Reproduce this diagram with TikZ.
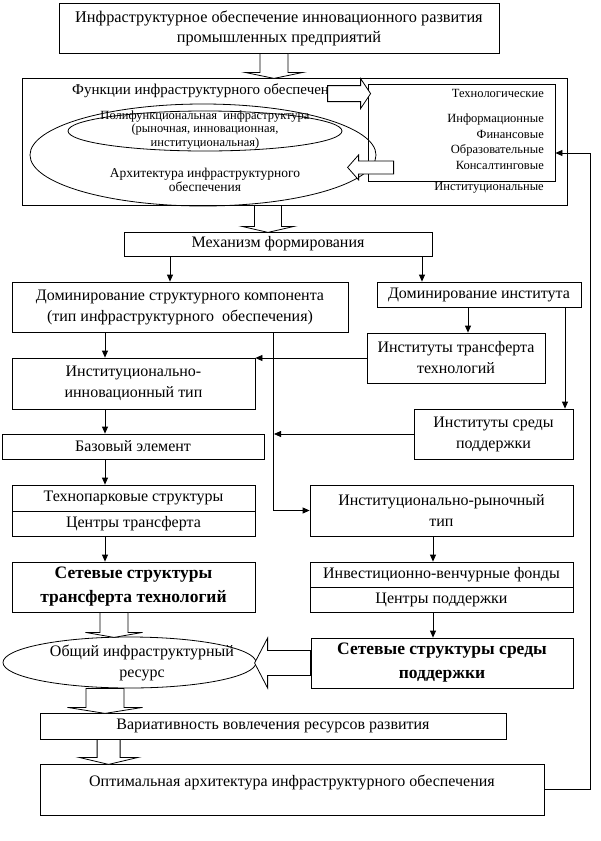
\documentclass[tikz,border=0pt]{standalone}
\usepackage{fontspec}
\setmainfont{Liberation Serif}
\usetikzlibrary{positioning, arrows.meta, shapes.geometric, calc}

\tikzset{
  box/.style={draw, line width=0.8pt, inner sep=0pt, align=center},
  oval/.style={draw, ellipse, line width=0.8pt, inner sep=0pt},
  arr/.style={line width=0.8pt, -{Triangle[length=7pt,width=6pt]}},
  txt/.style={font=\fontsize{16}{21}\selectfont, align=center, inner sep=0pt},
  smalltxt/.style={font=\fontsize{12.5}{13.5}\selectfont, align=center, inner sep=0pt},
  boldtxt/.style={font=\fontsize{17.5}{24}\selectfont\bfseries, align=center},
  fatline/.style={draw, fill=white, line width=0.8pt},
  pics/fat/.style n args={4}{code={
    \path[fatline] (0,-#1/2) -- (#3-#4,-#1/2) -- (#3-#4,-#2/2) -- (#3,0)
      -- (#3-#4,#2/2) -- (#3-#4,#1/2) -- (0,#1/2) -- cycle;
  }},
}

\begin{document}
\begin{tikzpicture}[x=1pt, y=-1pt]
\useasboundingbox (0,0) rectangle (600,841);

% upper part: functions of infrastructure support
\node[box, txt, font=\fontsize{16.3}{20}\selectfont, minimum width=440pt, minimum height=50pt] (goal) at (279,28)
  {Инфраструктурное обеспечение инновационного развития\\промышленных предприятий};
\node[box, minimum width=545pt, minimum height=127pt] (funcs) at (294.5,141.5) {};
\node[txt, font=\fontsize{15}{21}\selectfont, anchor=west] (functxt) at (72,91) {Функции инфраструктурного обеспечени};
\node[box, minimum width=187pt, minimum height=97pt] (kinds) at (461.5,132.5) {};
\node[smalltxt, anchor=east] (tech) at (544,93) {Технологические};
\node[smalltxt, anchor=east, align=right, font=\fontsize{12.5}{15.5}\selectfont] (kindlist) at (544,141.5)
  {Информационные\\Финансовые\\Образовательные\\Консалтинговые};
\node[smalltxt, anchor=east] (instkind) at (544,188) {Институциональные};

\node[oval, minimum width=346pt, minimum height=102pt] (arch) at (203,155) {};
\node[oval, minimum width=274pt, minimum height=40pt] (poly) at (205,131) {};
\node[smalltxt] (polytxt) at (205,130)
  {Полифункциональная\ \ инфраструктура\\(рыночная, инновационная,\\институциональная)};
\node[smalltxt, font=\fontsize{13.5}{14.5}\selectfont] (archtxt) at (205,180) {Архитектура инфраструктурного\\обеспечения};

\pic at ($(kinds.north west)+(-40,10)$) {fat={16}{30}{43}{10}};
\pic[rotate=180] at ($(kinds.south west)+(26,-14)$) {fat={13}{25}{46}{11}};
\pic[rotate=-90] at ($(goal.south)+(-5,0)$) {fat={28}{58}{25}{6}};
\pic[rotate=-90] at ($(funcs.south)+(-26.5,0)$) {fat={27}{52}{27}{6}};

% mechanism
\node[box, txt, minimum width=308pt, minimum height=24pt] (mech) at (278,244) {Механизм формирования};
\node[box, txt, minimum width=336pt, minimum height=50pt] (domstr) at (180,307)
  {Доминирование структурного компонента\\(тип инфраструктурного\ \ обеспечения)};
\node[box, txt, minimum width=204pt, minimum height=25pt] (dominst) at (479,294.5) {Доминирование института};
\node[box, txt, minimum width=178pt, minimum height=50pt] (insttr) at (456,358)
  {Институты трансферта\\технологий};
\node[box, txt, minimum width=243pt, minimum height=51pt] (instinnov) at (133.5,383.5)
  {Институционально-\\инновационный тип};
\node[box, txt, minimum width=159pt, minimum height=50pt] (instsr) at (493.5,434)
  {Институты среды\\поддержки};
\node[box, txt, minimum width=262pt, minimum height=25pt] (base) at (133,446.5) {Базовый элемент};
\node[box, txt, minimum width=243pt, minimum height=26pt] (techA) at (133.5,498) {Технопарковые структуры};
\node[box, txt, minimum width=243pt, minimum height=25pt] (techB) at (133.5,523.5) {Центры трансферта};
\node[box, txt, minimum width=263pt, minimum height=51pt] (instmark) at (441.5,510.5)
  {Институционально-рыночный\\тип};
\node[box, boldtxt, minimum width=243pt, minimum height=50pt] (nettr) at (133.5,587)
  {Сетевые структуры\\трансферта технологий};
\node[box, txt, minimum width=263pt, minimum height=25pt] (invA) at (441.5,574.5) {Инвестиционно-венчурные фонды};
\node[box, txt, minimum width=263pt, minimum height=25pt] (invB) at (441.5,599.5) {Центры поддержки};
\node[box, boldtxt, minimum width=262pt, minimum height=50pt] (netsup) at (442,663)
  {Сетевые структуры среды\\поддержки};

% resource and result
\node[oval, minimum width=253pt, minimum height=51pt] (res) at (129.5,662.5) {};
\node[txt] (restxt) at (142,663) {Общий инфраструктурный\\ресурс};
\node[box, txt, minimum width=466pt, minimum height=26pt] (var) at (273,726)
  {Вариативность вовлечения ресурсов развития};
\node[box, minimum width=504pt, minimum height=51pt] (opt) at (292,789.5) {};
\node[txt] (opttxt) at (292,782) {Оптимальная архитектура инфраструктурного обеспечения};

\pic[rotate=-90] at ($(nettr.south)+(-19.5,0)$) {fat={28}{57}{25}{5}};
\pic[rotate=-90] at ($(res.south)+(-24.5,0)$) {fat={38}{75}{25}{6}};
\pic[rotate=-90] at ($(var.south west)+(69,0)$) {fat={23}{59}{25}{7}};
\pic[rotate=180] at (netsup.west) {fat={25}{50}{56}{13}};

% connectors
\draw[arr] (170,0 |- mech.south) -- (170,0 |- domstr.north);
\draw[arr] (422,0 |- mech.south) -- (422,0 |- dominst.north);
\draw[arr] (468,0 |- dominst.south) -- (468,0 |- insttr.north);
\draw[arr] (565,0 |- dominst.south) -- (565,0 |- instsr.north);
\draw[arr] (105,0 |- domstr.south) -- (105,0 |- instinnov.north);
\draw[arr] (insttr.west) -- (insttr.west -| instinnov.east);
\draw[arr] (273,0 |- domstr.south) |- (instmark.west);
\draw[arr] (instsr.west) -- (274,0 |- instsr.west);
\draw[arr] (105,0 |- instinnov.south) -- (105,0 |- base.north);
\draw[arr] (105,0 |- base.south) -- (105,0 |- techA.north);
\draw[arr] (105,0 |- techB.south) -- (105,0 |- nettr.north);
\draw[arr] (433,0 |- instmark.south) -- (433,0 |- invA.north);
\draw[arr] (433,0 |- invB.south) -- (433,0 |- netsup.north);
\draw[arr] (opt.east) -| (590,153) -- (kinds.east |- 0,153);
\end{tikzpicture}
\end{document}
